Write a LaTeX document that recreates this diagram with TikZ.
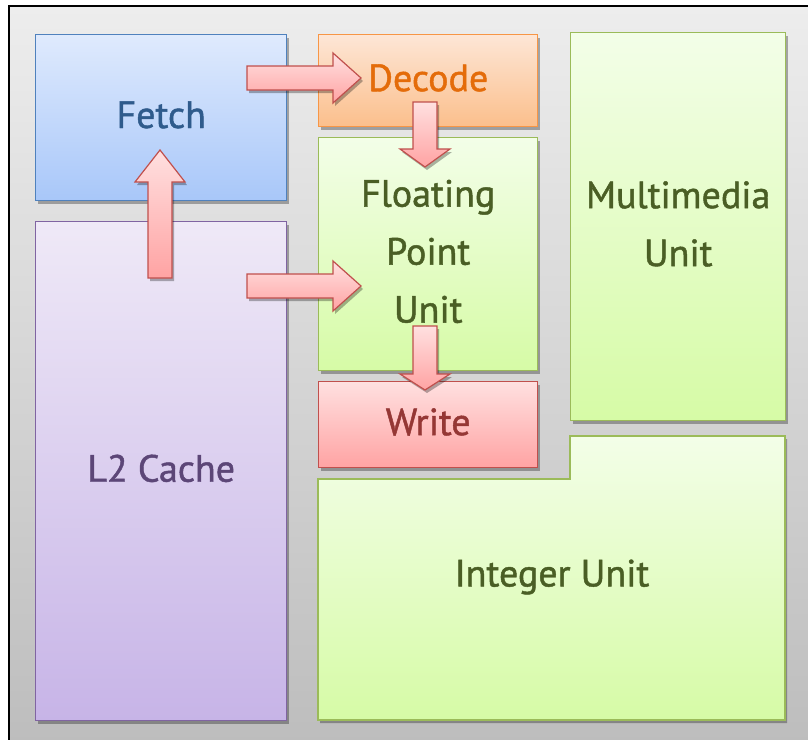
\documentclass[tikz,border=0pt]{standalone}
\usepackage{fontspec}
\setmainfont{PT Sans}
\newfontfamily\boxfont[FakeBold=1.2]{PT Sans}
\usetikzlibrary{shadows,calc}
\definecolor{bgtop}{HTML}{EDEDED}
\definecolor{bgbot}{HTML}{BCBCBC}
\definecolor{fetchtop}{HTML}{DFEAFD}
\definecolor{fetchbot}{HTML}{A8C7F9}
\definecolor{fetchline}{HTML}{4F81BD}
\definecolor{fetchtext}{HTML}{2F5B8C}
\definecolor{ltop}{HTML}{EFE9F7}
\definecolor{lbot}{HTML}{C7B4E7}
\definecolor{lline}{HTML}{8064A2}
\definecolor{ltext}{HTML}{5C4677}
\definecolor{dtop}{HTML}{FDE6D6}
\definecolor{dbot}{HTML}{FBBF8C}
\definecolor{dline}{HTML}{F79646}
\definecolor{dtext}{HTML}{E46C0A}
\definecolor{gtop}{HTML}{F3FEE8}
\definecolor{gbot}{HTML}{D6FBA6}
\definecolor{gline}{HTML}{9BBB59}
\definecolor{gtext}{HTML}{4A5E25}
\definecolor{rtop}{HTML}{FFE0E0}
\definecolor{rbot}{HTML}{FFA3A3}
\definecolor{rline}{HTML}{C0504D}
\definecolor{rtext}{HTML}{953735}
\newcommand{\myblockarrow}[3]{%
  \coordinate (hb) at ($(#2)!#3pt!(#1)$);
  \path[arrowbox] ($(#1)!12pt!90:(#2)$) -- ($(hb)!12pt!-90:(#1)$) -- ($(hb)!25pt!-90:(#1)$) -- (#2)
     -- ($(hb)!25pt!90:(#1)$) -- ($(hb)!12pt!90:(#1)$) -- ($(#1)!12pt!-90:(#2)$) -- cycle;}
\tikzset{
  shad/.style={drop shadow={shadow xshift=2pt,shadow yshift=-3pt,opacity=.3,fill=black}},
  lbl/.style={font=\boxfont\fontsize{38}{58}\selectfont,align=center,text depth=6pt},
  box/.style={rectangle,anchor=north west,inner sep=0pt,line width=1.4pt,shad,lbl},
  fetchbox/.style={box,draw=fetchline,top color=fetchtop,bottom color=fetchbot,text=fetchtext},
  l2box/.style={box,draw=lline,top color=ltop,bottom color=lbot,text=ltext},
  decbox/.style={box,draw=dline,top color=dtop,bottom color=dbot,text=dtext},
  greenbox/.style={box,draw=gline,top color=gtop,bottom color=gbot,text=gtext},
  writebox/.style={box,draw=rline,top color=rtop,bottom color=rbot,text=rtext},
  arrowbox/.style={draw=rline,line width=1.2pt,top color=rtop,bottom color=rbot,shad,line join=miter},
}
\begin{document}
\begin{tikzpicture}[x=1pt,y=-1pt]
\useasboundingbox (0,0) rectangle (808,739);
\clip (0,0) rectangle (808,739);
\path[draw=black,line width=2pt,top color=bgtop,bottom color=bgbot] (9,6) rectangle (830,760);

\node[fetchbox,minimum width=251pt,minimum height=166pt] (fetch) at (35,34) {Fetch};
\node[l2box,minimum width=251pt,minimum height=499pt] (l2) at (35,221) {L2 Cache};
\node[decbox,minimum width=219pt,minimum height=92pt] (decode) at (318,34) {Decode};
\node[greenbox,minimum width=219pt,minimum height=233pt] (fpu) at (318,137) {Floating\\Point\\Unit};
\node[writebox,minimum width=219pt,minimum height=86pt] (write) at (318,381) {Write};
\node[greenbox,minimum width=215pt,minimum height=388pt] (mm) at (570,32) {Multimedia\\Unit};
\path[draw=gline,line width=1.4pt,top color=gtop,bottom color=gbot,shad]
  (318,479) -- (570,479) -- (570,436) -- (785,436) -- (785,720) -- (318,720) -- cycle;
\node[lbl,text=gtext] (int) at (552,576) {Integer Unit};

\coordinate (a1s) at (247,78);  \coordinate (a1t) at (361,78);
\coordinate (a2s) at (160,278); \coordinate (a2t) at (160,150);
\coordinate (a3s) at (247,286); \coordinate (a3t) at (361,286);
\coordinate (a4s) at (425,102); \coordinate (a4t) at (425,167);
\coordinate (a5s) at (425,326); \coordinate (a5t) at (425,390);
\myblockarrow{a1s}{a1t}{28}
\myblockarrow{a2s}{a2t}{32}
\myblockarrow{a3s}{a3t}{28}
\myblockarrow{a4s}{a4t}{18}
\myblockarrow{a5s}{a5t}{16}
\end{tikzpicture}
\end{document}
